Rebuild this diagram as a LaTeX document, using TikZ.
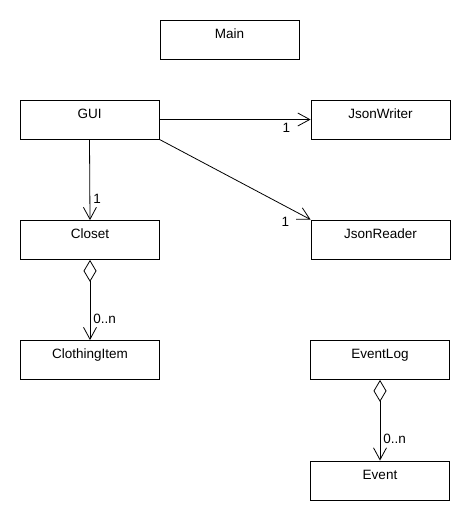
\documentclass[tikz,border=0pt]{standalone}
\usepackage{fontspec}
\setmainfont{Liberation Sans}
\usetikzlibrary{arrows.meta}
\begin{document}
\begin{tikzpicture}[x=1pt, y=-1pt, line width=0.8pt,
    every node/.style={font=\fontsize{13.5}{16}\selectfont},
    cls/.style={draw, rectangle, minimum width=139pt, inner xsep=0pt,
        inner ysep=8.6pt, text height=9.7pt, text depth=12.1pt},
    assoc/.style={-{Straight Barb[length=12pt, width=13pt]}},
    aggr/.style={{Diamond[open, length=22pt, width=13pt]}-{Straight Barb[length=12pt, width=13pt]}},
    mult/.style={inner sep=2pt}]
    \useasboundingbox (0,0) rectangle (470,520);
    \node[cls] (main) at (229.5,39.5) {Main};
    \node[cls] (gui) at (89.5,119.5) {GUI};
    \node[cls] (writer) at (380.5,119.5) {JsonWriter};
    \node[cls] (closet) at (90,240) {Closet};
    \node[cls] (reader) at (380.5,239.5) {JsonReader};
    \node[cls] (item) at (90,360) {ClothingItem};
    \node[cls] (eventlog) at (380,360) {EventLog};
    \node[cls] (event) at (380,480.5) {Event};
    % associations from the GUI
    \draw[assoc] (gui.east) -- (writer.west)
        node[mult, pos=0.84, below=1pt] {1};
    \draw[assoc] (gui.south east) -- (reader.north west)
        node[mult, pos=1, anchor=east, xshift=-19pt, yshift=-2pt] {1};
    \draw[assoc] (gui.south) -- (closet.north)
        node[mult, pos=0.74, right=1pt] {1};
    % aggregations
    \foreach \whole/\part in {closet/item, eventlog/event}
        \draw[aggr] (\whole.south) -- (\part.north)
            node[mult, pos=0.73, right=1pt] {0..n};
\end{tikzpicture}
\end{document}
